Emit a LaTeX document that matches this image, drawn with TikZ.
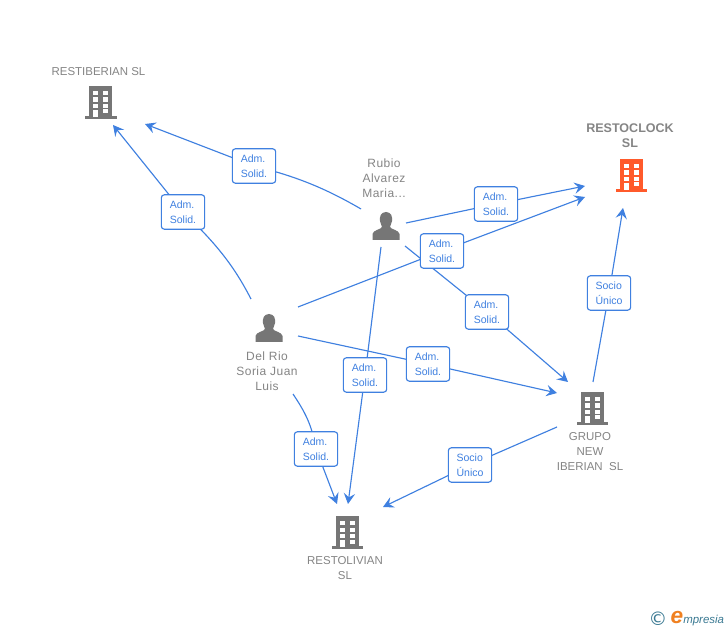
\documentclass[tikz,border=0pt]{standalone}
\usepackage{fontspec}
\setmainfont{Liberation Sans}
\newfontfamily\persfont[LetterSpace=4]{Liberation Sans}
\usetikzlibrary{arrows.meta}
\definecolor{linkblue}{HTML}{3F80E0}
\definecolor{txtblue}{HTML}{3F80E0}
\definecolor{icongrey}{HTML}{767676}
\definecolor{txtgrey}{HTML}{858585}
\definecolor{hiorange}{HTML}{FF5A2B}
\definecolor{logoteal}{HTML}{3B7A93}
\definecolor{logoorange}{HTML}{F08020}
\tikzset{
  lnk/.style={draw=linkblue,line width=0.85pt},
  arr/.style={lnk,-{Stealth[length=8pt,width=8.5pt,inset=3pt]}},
  lab/.style={draw=linkblue,line width=0.85pt,fill=white,rounded corners=2.2pt,
    minimum width=32.5pt,minimum height=25.8pt,inner sep=0pt,text=txtblue,
    font=\fontsize{7.9}{11.25}\selectfont,align=left},
  ent/.style={text=txtgrey,inner sep=0pt,align=center,
    font=\fontsize{8.6}{11.25}\selectfont},
  pers/.style={text=txtgrey,inner sep=0pt,align=center,
    font=\persfont\fontsize{9}{11.25}\selectfont},
  enth/.style={ent,font=\fontsize{9.4}{11.25}\selectfont\bfseries},
}
\newcommand{\bldg}[3]{%
  \begin{scope}[shift={(#1,#2)}]
    \fill[#3] (-11.5,-16) rectangle (11.5,14);
    \fill[#3] (-15.5,14) rectangle (16,17);
    \foreach \yy in {-11,-4.5,2}{
      \fill[white] (-7.5,\yy) rectangle (-2.5,\yy+4.2);
      \fill[white] (2.5,\yy) rectangle (7.5,\yy+4.2);
    }
    \fill[white] (-7.5,8) rectangle (-2.5,15);
    \fill[white] (2.5,7.5) rectangle (7.5,11.5);
  \end{scope}}
\newcommand{\persona}[2]{%
  \begin{scope}[shift={(#1,#2)}]
    \fill[icongrey] (0,-15) .. controls (-5.5,-15) and (-6.5,-10) .. (-6,-6)
      .. controls (-5.6,-3) and (-4,-1.5) .. (-4,0)
      .. controls (-5,2.5) and (-13,3) .. (-13.5,7) -- (-13.5,13) -- (13.5,13) -- (13.5,7)
      .. controls (13,3) and (5,2.5) .. (4,0)
      .. controls (4,-1.5) and (5.6,-3) .. (6,-6)
      .. controls (6.5,-10) and (5.5,-15) .. (0,-15) -- cycle;
  \end{scope}}
\begin{document}
\begin{tikzpicture}[x=0.75pt,y=-0.75pt]
\useasboundingbox (0,0) rectangle (728,630);
\fill[white] (0,0) rectangle (728,630);

% icons
\bldg{100.5}{102}{icongrey}
\bldg{631}{175}{hiorange}
\bldg{592}{408}{icongrey}
\bldg{347}{532}{icongrey}
\persona{386}{227}
\persona{269}{329}

% entity texts
\node[ent] (restiberian) at (98.5,72) {RESTIBERIAN SL};
\node[enth] (restoclock) at (630,136) {RESTOCLOCK\\SL};
\node[pers] (rubio) at (384,178) {Rubio\\Alvarez\\Maria...};
\node[pers] (delrio) at (267,371) {Del Rio\\Soria Juan\\Luis};
\node[ent] (grupo) at (590,452) {GRUPO\\NEW\\IBERIAN\ \ SL};
\node[ent] (restolivian) at (345,568.5) {RESTOLIVIAN\\SL};

% connector ends
\coordinate (s1) at (361,209);   \coordinate (e1) at (145,124);
\coordinate (s2) at (251,299);   \coordinate (e2) at (113,125);
\coordinate (s3) at (406,223);   \coordinate (e3) at (585,186);
\coordinate (s4) at (298,307);   \coordinate (e4) at (585,197);
\coordinate (s5) at (405,246);   \coordinate (e5) at (568,382);
\coordinate (s6) at (298,336);   \coordinate (e6) at (557,393);
\coordinate (s7) at (381,247);   \coordinate (e7) at (348,504);
\coordinate (s8) at (293,394);   \coordinate (e8) at (337,504);
\coordinate (s9) at (593,382);   \coordinate (e9) at (623,208);
\coordinate (s10) at (557,427);  \coordinate (e10) at (383,507);

% label positions
\coordinate (p1) at (254,166);
\coordinate (p2) at (183,212);
\coordinate (p3) at (496,204);
\coordinate (p4) at (442,251);
\coordinate (p5) at (487,312);
\coordinate (p6) at (428,364);
\coordinate (p7) at (365,375);
\coordinate (p8) at (316,449);
\coordinate (p9) at (609,293);
\coordinate (p10) at (470,465);

% connectors
\draw[lnk] (s1) .. controls (325,188) and (295,176) .. (p1);
\draw[arr] (p1) -- (e1);
\draw[lnk] (s2) .. controls (235,268) and (218,245) .. (p2);
\draw[arr] (p2) -- (e2);
\draw[lnk] (s3) -- (p3);
\draw[arr] (p3) -- (e3);
\draw[lnk] (s4) -- (p4);
\draw[arr] (p4) -- (e4);
\draw[lnk] (s5) -- (p5);
\draw[arr] (p5) -- (e5);
\draw[lnk] (s6) -- (p6);
\draw[arr] (p6) -- (e6);
\draw[lnk] (s7) -- (p7);
\draw[arr] (p7) -- (e7);
\draw[lnk] (s8) .. controls (305,412) and (312,425) .. (p8);
\draw[arr] (p8) -- (e8);
\draw[lnk] (s9) -- (p9);
\draw[arr] (p9) -- (e9);
\draw[lnk] (s10) -- (p10);
\draw[arr] (p10) -- (e10);

% labels
\node[lab] (l1) at (p1) {Adm.\\Solid.};
\node[lab] (l2) at (p2) {Adm.\\Solid.};
\node[lab] (l3) at (p3) {Adm.\\Solid.};
\node[lab] (l4) at (p4) {Adm.\\Solid.};
\node[lab] (l5) at (p5) {Adm.\\Solid.};
\node[lab] (l6) at (p6) {Adm.\\Solid.};
\node[lab] (l7) at (p7) {Adm.\\Solid.};
\node[lab] (l8) at (p8) {Adm.\\Solid.};
\node[lab] (l9) at (p9) {Socio\\Único};
\node[lab] (l10) at (p10) {Socio\\Único};

% logo
\node[text=logoteal,inner sep=0pt,font=\fontsize{14}{14}\selectfont] (copyr) at (658,619) {\fontspec{DejaVu Sans}©};
\node[text=logoorange,inner sep=0pt,font=\itshape\bfseries\fontsize{17}{17}\selectfont] (logoe) at (677,618) {e};
\node[text=logoteal,inner sep=0pt,anchor=base west,font=\itshape\fontsize{8.6}{10}\selectfont] (logot) at (683,623) {mpresia};
\end{tikzpicture}
\end{document}
